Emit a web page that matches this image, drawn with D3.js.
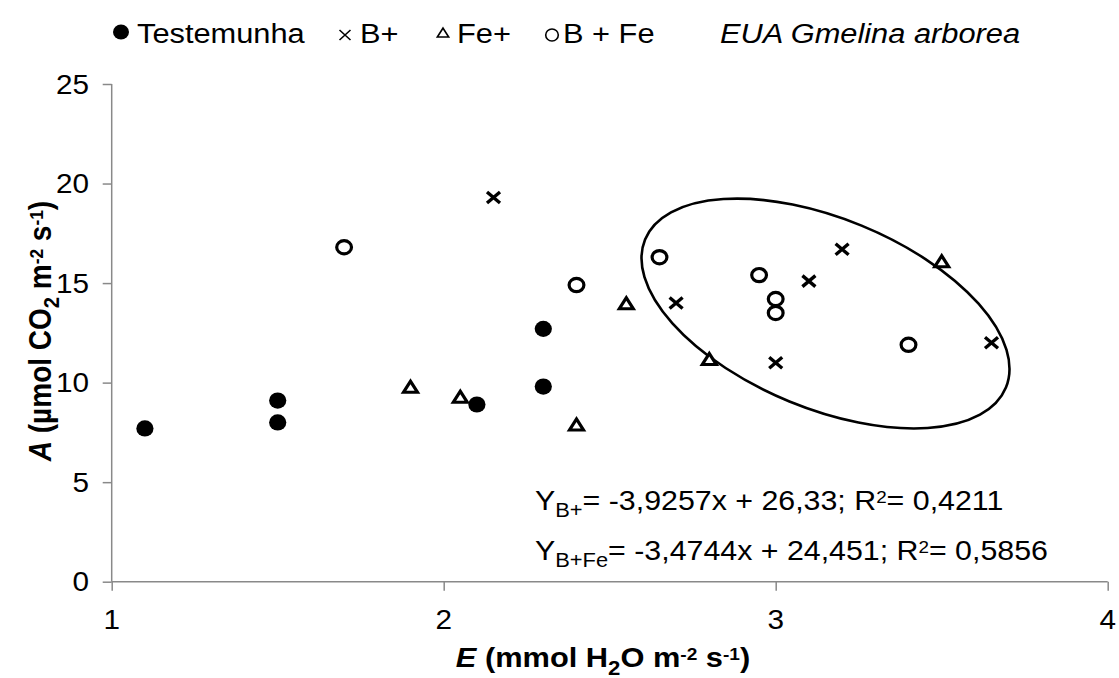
<!DOCTYPE html>
<html><head><meta charset="utf-8">
<script src="https://cdn.jsdelivr.net/npm/d3@7"></script>
<style>body{margin:0;background:#fff} text{font-family:"Liberation Sans",Arial,sans-serif;fill:#000}</style>
</head><body><svg id="c" width="1119" height="678"></svg>
<script>
// ---- data ----
const seriesNames = ["Testemunha", "B+", "Fe+", "B + Fe"];
const testemunhaE = [1.1, 1.5, 1.5, 2.1, 2.3, 2.3];
const testemunhaA = [7.7, 9.1, 8.0, 8.9, 12.7, 9.8];
const bE = [2.15, 2.7, 3.0, 3.1, 3.2, 3.65];
const bA = [19.3, 14.0, 11.0, 15.1, 16.7, 12.0];
const feE = [1.9, 2.05, 2.4, 2.55, 2.8, 3.5];
const feA = [9.7, 9.2, 7.8, 13.9, 11.1, 16.0];
const bfeE = [1.7, 2.4, 2.65, 2.95, 3.0, 3.0, 3.4];
const bfeA = [16.8, 14.9, 16.3, 15.4, 14.2, 13.5, 11.9];
const xTicks = [1, 2, 3, 4];
const yTicks = [0, 5, 10, 15, 20, 25];
const eq1 = [{t:"Y"},{t:"B+",sub:1},{t:"= -3,9257x + 26,33; R"},{t:"2",sup:1},{t:"= 0,4211"}];
const eq2 = [{t:"Y"},{t:"B+Fe",sub:1},{t:"= -3,4744x + 24,451; R"},{t:"2",sup:1},{t:"= 0,5856"}];
const xTitle = [{t:"E",it:1},{t:" (mmol H"},{t:"2",sub:1},{t:"O m"},{t:"-2",sup:1},{t:" s"},{t:"-1",sup:1},{t:")"}];
const yTitle = [{t:"A",it:1},{t:" (µmol CO"},{t:"2",sub:1},{t:" m"},{t:"-2",sup:1},{t:" s"},{t:"-1",sup:1},{t:")"}];
const speciesLabel = "EUA Gmelina arborea";
const ellipseCenter = {E: 3.15, A: 13.47};

// ---- layout ----
const SX = 1.1;
const svg = d3.select("#c");
const x = d3.scaleLinear().domain([1, 4]).range([111.7, 1107.7]);
const y = d3.scaleLinear().domain([0, 25]).range([581.7, 84]);
const axisColor = "#898989";

function rich(textSel, parts, fs, opt) {
  opt = opt || {};
  let cur = 0;
  parts.forEach(p => {
    let target = 0, size = fs;
    if (p.sub) { target = fs * 0.27; size = fs * 0.72; }
    if (p.sup) { target = -fs * 0.25; size = fs * 0.62; }
    const ts = textSel.append("tspan").text(p.t).attr("font-size", size).attr("dy", target - cur);
    if (p.it) ts.attr("font-style", "italic");
    cur = target;
  });
}
function stext(px, py, anchor, fs, parts, extra) {
  const g = svg.append("g").attr("transform", `translate(${px},${py}) scale(${SX},1)`);
  const t = g.append("text").attr("text-anchor", anchor).attr("font-size", fs);
  if (extra) extra(t);
  if (typeof parts === "string") t.text(parts); else rich(t, parts, fs);
  return t;
}

// ---- axes ----
const gx = svg.append("g").attr("transform", `translate(0,${y(0)})`)
  .call(d3.axisBottom(x).tickValues(xTicks).tickSize(9).tickFormat(""));
const gy = svg.append("g").attr("transform", `translate(${x(1)},0)`)
  .call(d3.axisLeft(y).tickValues(yTicks).tickSize(9).tickFormat(""));
[gx, gy].forEach(g => {
  g.selectAll("path").attr("stroke", axisColor).attr("stroke-width", 1.5).attr("d",
    g === gx ? `M${x(1)},0H${x(4)}` : `M0,${y(0)}V${y(25)}`);
  g.selectAll("line").attr("stroke", axisColor).attr("stroke-width", 1.5);
});
xTicks.forEach(v => stext(x(v), 629, "middle", 27, String(v)));
yTicks.forEach(v => stext(89, y(v) + 9.5, "end", 27, String(v)));

// axis titles
stext(603, 667, "middle", 28, xTitle, t => t.attr("font-weight", "bold"));
{
  const g = svg.append("g").attr("transform", `translate(51,331) rotate(-90) scale(1,${SX})`);
  const t = g.append("text").attr("text-anchor", "middle").attr("font-size", 28).attr("font-weight", "bold");
  rich(t, yTitle, 28);
}

// ---- ellipse annotation ----
svg.append("ellipse")
  .attr("transform", `translate(${x(ellipseCenter.E)},${y(ellipseCenter.A)}) rotate(22.3)`)
  .attr("rx", 195).attr("ry", 95)
  .attr("fill", "none").attr("stroke", "#000").attr("stroke-width", 2.6);

// ---- marks ----
const crossPath = (hx, hy) => `M${-hx},${-hy}L${hx},${hy}M${-hx},${hy}L${hx},${-hy}`;
const tri = d3.symbol().type(d3.symbolTriangle);

svg.append("g").selectAll("ellipse").data(d3.zip(testemunhaE, testemunhaA)).join("ellipse")
  .attr("cx", d => x(d[0])).attr("cy", d => y(d[1])).attr("rx", 8.6).attr("ry", 8.1).attr("fill", "#000");

svg.append("g").selectAll("ellipse").data(d3.zip(bfeE, bfeA)).join("ellipse")
  .attr("cx", d => x(d[0])).attr("cy", d => y(d[1])).attr("rx", 7.4).attr("ry", 6.6)
  .attr("fill", "#fff").attr("stroke", "#000").attr("stroke-width", 3.2);

svg.append("g").selectAll("path").data(d3.zip(feE, feA)).join("path")
  .attr("transform", d => `translate(${x(d[0])},${y(d[1])}) scale(1.1,1)`)
  .attr("d", tri.size(70)()).attr("fill", "#fff").attr("stroke", "#000").attr("stroke-width", 3);

svg.append("g").selectAll("path").data(d3.zip(bE, bA)).join("path")
  .attr("transform", d => `translate(${x(d[0])},${y(d[1])})`)
  .attr("d", crossPath(6.5, 5.5)).attr("fill", "none").attr("stroke", "#000").attr("stroke-width", 3.4);

// ---- equations ----
stext(535, 510, "start", 27.6, eq1);
stext(535, 560, "start", 27.6, eq2);

// ---- legend ----
const lg = svg.append("g");
lg.append("ellipse").attr("cx", 121).attr("cy", 32).attr("rx", 8).attr("ry", 7.5).attr("fill", "#000");
stext(137, 43, "start", 28, seriesNames[0]);
lg.append("path").attr("transform", "translate(345,35)").attr("d", crossPath(5.5, 5)).attr("stroke", "#000").attr("stroke-width", 1.6);
stext(360, 43, "start", 28, seriesNames[1]);
lg.append("path").attr("transform", "translate(443,34) scale(1.1,1)").attr("d", d3.symbol().type(d3.symbolTriangle).size(45)())
  .attr("fill", "#fff").attr("stroke", "#000").attr("stroke-width", 1.6);
stext(457, 43, "start", 28, seriesNames[2]);
lg.append("ellipse").attr("cx", 552).attr("cy", 35).attr("rx", 6.3).attr("ry", 6).attr("fill", "#fff").attr("stroke", "#000").attr("stroke-width", 1.6);
stext(563, 43, "start", 28, seriesNames[3]);
stext(720, 43, "start", 28, speciesLabel, t => t.attr("font-style", "italic"));
</script></body></html>
